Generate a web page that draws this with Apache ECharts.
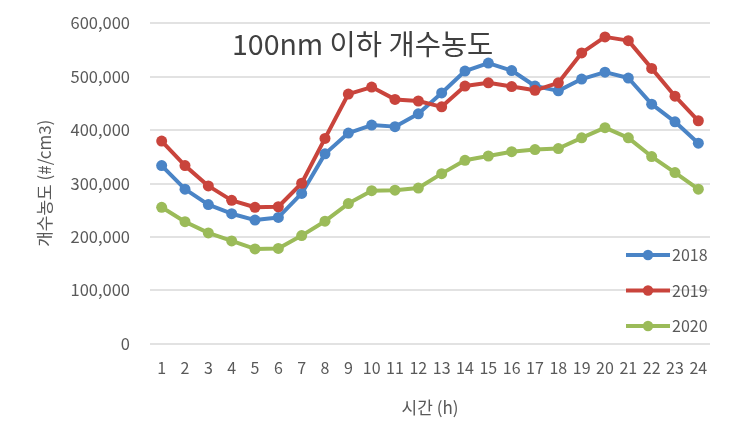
<!DOCTYPE html>
<html>
<head>
<meta charset="utf-8">
<script src="https://cdn.jsdelivr.net/npm/echarts@6/dist/echarts.min.js"></script>
<style>html,body{margin:0;padding:0;background:#fff;}#c{width:732px;height:447px;}</style>
</head>
<body>
<div id="c"></div>
<script>
const hours = ['1','2','3','4','5','6','7','8','9','10','11','12','13','14','15','16','17','18','19','20','21','22','23','24'];
const y2018 = [333000,289000,260000,243000,231000,236000,281000,355000,394000,409000,406000,430000,469000,510000,525000,511000,482000,473000,495000,508000,497000,448000,415000,375000];
const y2019 = [379000,333000,295000,268000,255000,256000,300000,384000,467000,480000,457000,454000,443000,482000,488000,481000,474000,488000,544000,574000,567000,515000,463000,417000];
const y2020 = [255000,228000,207000,192000,177000,178000,202000,229000,262000,286000,287000,291000,318000,343000,351000,359000,363000,365000,385000,404000,385000,350000,320000,289000];
const seriesNames = ['2018','2019','2020'];
const colors = ['#4a84c6','#c9443c','#9bbb59'];
const titleText = '100nm 이하 개수농도';
const yName = '개수농도 (#/cm3)';
const xName = '시간 (h)';

const font = '"Noto Sans CJK KR", "Noto Sans", sans-serif';
const chart = echarts.init(document.getElementById('c'));
const mk = (name, data, color) => ({
  name, type: 'line', data,
  lineStyle: {width: 4, color},
  itemStyle: {color},
  symbol: 'circle', symbolSize: 11,
  emphasis: {disabled: true}
});
chart.setOption({
  animation: false,
  title: {text: titleText, left: 227, top: 25, textStyle: {fontFamily: font, fontSize: 28.5, fontWeight: 'normal', color: '#404040'}},
  legend: {
    orient: 'vertical', left: 619, top: 242, itemGap: 19.5, itemWidth: 44, itemHeight: 13,
    lineStyle: {width: 4},
    textStyle: {fontFamily: font, fontSize: 16, color: '#595959', padding: [0, 0, 0, -3]},
    data: seriesNames
  },
  grid: {left: 150, right: 22, top: 23, bottom: 103.5, containLabel: false},
  xAxis: {
    type: 'category', data: hours, boundaryGap: true,
    name: xName, nameLocation: 'middle', nameGap: 56,
    nameTextStyle: {fontFamily: font, fontSize: 17, color: '#595959'},
    axisLine: {show: false}, axisTick: {show: false},
    axisLabel: {fontFamily: font, fontSize: 16, color: '#595959', margin: 16, interval: 0}
  },
  yAxis: {
    type: 'value', min: 0, max: 600000, interval: 100000,
    name: yName, nameLocation: 'middle', nameGap: 97, nameRotate: 90,
    nameTextStyle: {fontFamily: font, fontSize: 17, color: '#595959'},
    axisLine: {show: false}, axisTick: {show: false},
    axisLabel: {fontFamily: font, fontSize: 16.5, color: '#595959', margin: 20,
      formatter: v => v.toLocaleString('en-US')},
    splitLine: {lineStyle: {color: '#d9d9d9', width: 1.5}}
  },
  series: [mk(seriesNames[0], y2018, colors[0]), mk(seriesNames[1], y2019, colors[1]), mk(seriesNames[2], y2020, colors[2])]
});
</script>
</body>
</html>
